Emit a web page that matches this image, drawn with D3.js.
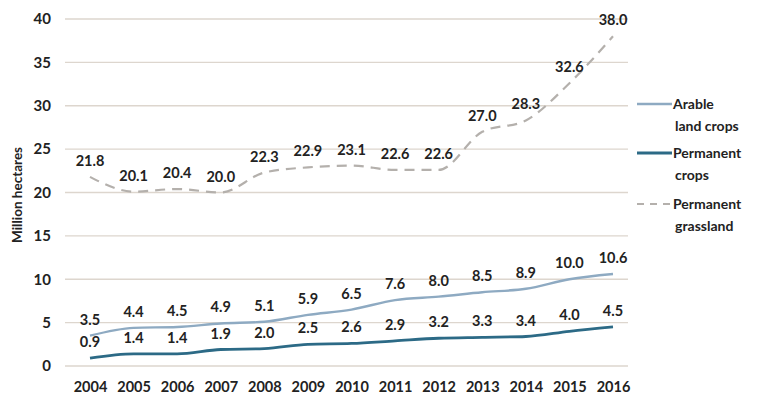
<!DOCTYPE html>
<html>
<head>
<meta charset="utf-8">
<script src="https://cdn.jsdelivr.net/npm/d3@7"></script>
<style>
  html, body { margin: 0; padding: 0; background: #fff; }
  svg text { font-family: Lato, "Open Sans", sans-serif; fill: #222; }
</style>
</head>
<body>
<svg id="chart" width="762" height="404"></svg>
<script>
// Land use, million hectares
const years = ["2004","2005","2006","2007","2008","2009","2010","2011","2012","2013","2014","2015","2016"];
const arableLandCrops = [3.5, 4.4, 4.5, 4.9, 5.1, 5.9, 6.5, 7.6, 8.0, 8.5, 8.9, 10.0, 10.6];
const permanentCrops = [0.9, 1.4, 1.4, 1.9, 2.0, 2.5, 2.6, 2.9, 3.2, 3.3, 3.4, 4.0, 4.5];
const permanentGrassland = [21.8, 20.1, 20.4, 20.0, 22.3, 22.9, 23.1, 22.6, 22.6, 27.0, 28.3, 32.6, 38.0];
const yTicks = [0, 5, 10, 15, 20, 25, 30, 35, 40];
const seriesNames = [["Arable", "land crops"], ["Permanent", "crops"], ["Permanent", "grassland"]];

const series = [
  { name: seriesNames[0], values: arableLandCrops, color: "#8eaac2", width: 2.4, dash: null },
  { name: seriesNames[1], values: permanentCrops, color: "#2c6a86", width: 2.8, dash: null },
  { name: seriesNames[2], values: permanentGrassland, color: "#b4b0ac", width: 2.2, dash: "10,7" }
];

const svg = d3.select("#chart");

const x = d3.scalePoint().domain(years).range([90, 613]);
const y = d3.scaleLinear().domain([0, 40]).range([366, 19]);

// horizontal gridlines
svg.append("g")
  .selectAll("line")
  .data(yTicks)
  .join("line")
  .attr("x1", 65).attr("x2", 628)
  .attr("y1", d => y(d)).attr("y2", d => y(d))
  .attr("stroke", "#ddd6ce")
  .attr("stroke-width", 1.3);

// y axis
const yAxis = svg.append("g")
  .attr("transform", "translate(58,0)")
  .call(d3.axisLeft(y).tickValues(yTicks).tickSize(0).tickPadding(7));
yAxis.select(".domain").remove();
yAxis.selectAll("text")
  .style("font-size", "15px").style("font-weight", "700").attr("fill", "#333");

// x axis
const xAxis = svg.append("g")
  .attr("transform", "translate(0,376)")
  .call(d3.axisBottom(x).tickSize(0).tickPadding(6));
xAxis.select(".domain").remove();
xAxis.selectAll("text")
  .style("font-size", "14.5px").style("font-weight", "700").attr("fill", "#333");

// y axis title
svg.append("text")
  .attr("transform", "translate(22,195) rotate(-90)")
  .attr("text-anchor", "middle")
  .style("font-size", "13.5px")
  .style("font-weight", "700")
  .attr("fill", "#333")
  .text("Million hectares");

// series lines
const line = d3.line()
  .x((d, i) => x(years[i]))
  .y(d => y(d))
  .curve(d3.curveMonotoneX);

series.forEach(s => {
  svg.append("path")
    .datum(s.values)
    .attr("d", line)
    .attr("fill", "none")
    .attr("stroke", s.color)
    .attr("stroke-width", s.width)
    .attr("stroke-dasharray", s.dash)
    .attr("stroke-linecap", "butt");
});

// data labels
series.forEach(s => {
  svg.append("g")
    .selectAll("text")
    .data(s.values)
    .join("text")
    .attr("x", (d, i) => x(years[i]))
    .attr("y", d => y(d) - 11)
    .attr("text-anchor", "middle")
    .style("font-size", "14.5px")
    .style("font-weight", "700")
    .text(d => d.toFixed(1));
});

// legend
const legendRows = [104, 153, 204];
series.forEach((s, i) => {
  const g = svg.append("g").attr("transform", `translate(0,${legendRows[i]})`);
  g.append("line")
    .attr("x1", 637).attr("x2", 672)
    .attr("y1", 0).attr("y2", 0)
    .attr("stroke", s.color)
    .attr("stroke-width", s.width)
    .attr("stroke-dasharray", s.dash ? "7,6" : null);
  g.append("text")
    .attr("x", 673).attr("y", 5)
    .style("font-size", "14px").style("font-weight", "700")
    .text(s.name[0]);
  g.append("text")
    .attr("x", 675).attr("y", 27)
    .style("font-size", "14px").style("font-weight", "700")
    .text(s.name[1]);
});
</script>
</body>
</html>
